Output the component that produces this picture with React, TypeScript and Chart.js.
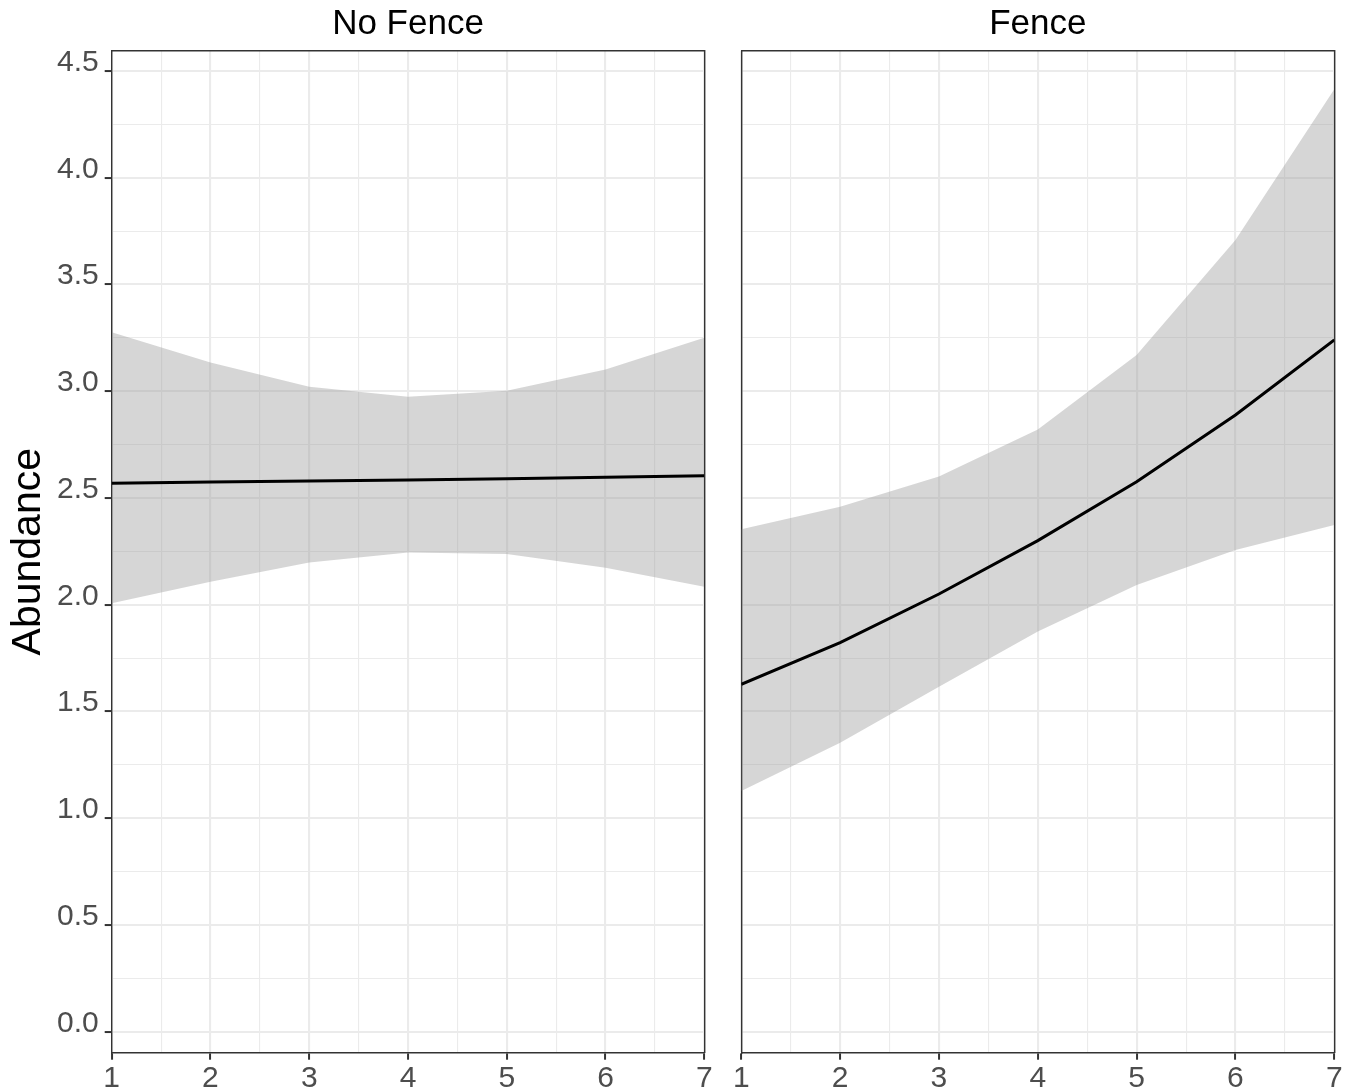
import React, { useEffect, useRef } from 'react';
import { Chart, registerables } from 'chart.js';

Chart.register(...registerables);

// ---------- data ----------
const xValues = [1, 2, 3, 4, 5, 6, 7];

const noFenceFit = [2.569, 2.575, 2.579, 2.584, 2.59, 2.597, 2.604];
const noFenceUpper = [3.276, 3.134, 3.021, 2.974, 3.002, 3.102, 3.251];
const noFenceLower = [2.007, 2.108, 2.198, 2.244, 2.237, 2.173, 2.084];

const fenceFit = [1.627, 1.822, 2.05, 2.3, 2.576, 2.889, 3.24];
const fenceUpper = [2.353, 2.459, 2.6, 2.821, 3.17, 3.708, 4.414];
const fenceLower = [1.127, 1.354, 1.616, 1.874, 2.092, 2.256, 2.373];

const panelTitles = ['No Fence', 'Fence'];
const yAxisTitle = 'Abundance';

const yMajorTicks = [0, 0.5, 1, 1.5, 2, 2.5, 3, 3.5, 4, 4.5];
const yTickLabels = ['0.0', '0.5', '1.0', '1.5', '2.0', '2.5', '3.0', '3.5', '4.0', '4.5'];
const yMinorTicks = [0.25, 0.75, 1.25, 1.75, 2.25, 2.75, 3.25, 3.75, 4.25];
const xMajorTicks = [1, 2, 3, 4, 5, 6, 7];
const xTickLabels = ['1', '2', '3', '4', '5', '6', '7'];
const xMinorTicks = [1.5, 2.5, 3.5, 4.5, 5.5, 6.5];

const yMin = -0.0984;
const yMax = 4.595;
const xMin = 1;
const xMax = 7;

// ---------- styles ----------
const FONT = "'Liberation Sans', Arial, Helvetica, sans-serif";
const GRID = '#ebebeb';
const BORDER = '#333333';
const TEXT = '#4d4d4d';
const RIBBON = 'rgba(153,153,153,0.4)';

const near = (a: number, b: number) => Math.abs(a - b) < 1e-6;
const majorIndex = (v: number, major: number[]) => major.findIndex((m) => near(m, v));

function setTicks(scale: any, major: number[], minor: number[]) {
  const all = [...major, ...minor].sort((a, b) => a - b);
  scale.ticks = all.map((v) => ({ value: v }));
}

function borderAxis(position: string) {
  return {
    type: 'linear',
    position,
    display: true,
    grid: { display: false, drawTicks: false },
    ticks: { display: false },
    border: { display: true, color: BORDER, width: 1.4 },
    afterFit: (s: any) => {
      if (position === 'top' || position === 'bottom') s.height = 0;
      else s.width = 0;
    },
  };
}

function makeConfig(side: 'left' | 'right', title: string, fit: number[], upper: number[], lower: number[]) {
  const isLeft = side === 'left';
  const pts = (arr: number[]) => xValues.map((x, i) => ({ x, y: arr[i] }));
  return {
    type: 'line',
    data: {
      datasets: [
        {
          label: 'fit',
          data: pts(fit),
          borderColor: '#000000',
          borderWidth: 3,
          pointRadius: 0,
          fill: false,
          tension: 0,
        },
        {
          label: 'upper',
          data: pts(upper),
          borderWidth: 0,
          borderColor: 'rgba(0,0,0,0)',
          pointRadius: 0,
          backgroundColor: RIBBON,
          fill: '+1',
          tension: 0,
        },
        {
          label: 'lower',
          data: pts(lower),
          borderWidth: 0,
          borderColor: 'rgba(0,0,0,0)',
          pointRadius: 0,
          fill: false,
          tension: 0,
        },
      ],
    },
    options: {
      responsive: false,
      animation: false,
      events: [],
      layout: {
        padding: isLeft
          ? { left: 0, right: 15.7, top: 0, bottom: 0 }
          : { left: 21.3, right: 22.7, top: 0, bottom: 0 },
      },
      plugins: {
        legend: { display: false },
        tooltip: { enabled: false },
        title: {
          display: true,
          text: title,
          fullSize: false,
          align: 'center',
          color: '#000000',
          font: { family: FONT, size: 35, weight: 'normal', lineHeight: 1.2 },
          padding: { top: 3, bottom: 5.7 },
        },
      },
      scales: {
        x: {
          type: 'linear',
          position: 'bottom',
          min: xMin,
          max: xMax,
          afterBuildTicks: (s: any) => setTicks(s, xMajorTicks, xMinorTicks),
          afterFit: (s: any) => {
            s.height = 37.3;
          },
          grid: {
            color: GRID,
            lineWidth: (ctx: any) => (majorIndex(ctx.tick.value, xMajorTicks) >= 0 ? 2.1 : 1.1),
            drawTicks: true,
            tickLength: 7,
            tickWidth: 2,
            tickColor: (ctx: any) =>
              majorIndex(ctx.tick.value, xMajorTicks) >= 0 ? BORDER : 'rgba(0,0,0,0)',
          },
          border: { display: true, color: BORDER, width: 1.4 },
          ticks: {
            autoSkip: false,
            maxRotation: 0,
            minRotation: 0,
            padding: 1,
            color: TEXT,
            font: { family: FONT, size: 30 },
            callback: (v: number) => {
              const i = majorIndex(v, xMajorTicks);
              return i >= 0 ? xTickLabels[i] : '';
            },
          },
        },
        y: {
          type: 'linear',
          position: 'left',
          min: yMin,
          max: yMax,
          afterBuildTicks: (s: any) => setTicks(s, yMajorTicks, yMinorTicks),
          afterFit: (s: any) => {
            s.width = isLeft ? 111.7 : 0;
          },
          grid: {
            color: GRID,
            lineWidth: (ctx: any) => (majorIndex(ctx.tick.value, yMajorTicks) >= 0 ? 2.1 : 1.1),
            drawTicks: isLeft,
            tickLength: 7,
            tickWidth: 2,
            tickColor: (ctx: any) =>
              majorIndex(ctx.tick.value, yMajorTicks) >= 0 ? BORDER : 'rgba(0,0,0,0)',
          },
          border: { display: true, color: BORDER, width: 1.4 },
          title: {
            display: isLeft,
            text: yAxisTitle,
            color: '#000000',
            font: { family: FONT, size: 41, lineHeight: 1.2 },
            padding: { top: 4, bottom: 0 },
          },
          ticks: {
            display: isLeft,
            autoSkip: false,
            padding: 6,
            labelOffset: -8.3,
            color: TEXT,
            font: { family: FONT, size: 30 },
            callback: (v: number) => {
              const i = majorIndex(v, yMajorTicks);
              return i >= 0 ? yTickLabels[i] : '';
            },
          },
        },
        xTop: borderAxis('top'),
        yRight: borderAxis('right'),
      },
    },
  };
}

function Panel(props: {
  side: 'left' | 'right';
  title: string;
  fit: number[];
  upper: number[];
  lower: number[];
  left: number;
  width: number;
}) {
  const ref = useRef<HTMLCanvasElement | null>(null);
  useEffect(() => {
    if (!ref.current) return;
    const chart = new Chart(
      ref.current,
      makeConfig(props.side, props.title, props.fit, props.upper, props.lower) as any
    );
    return () => chart.destroy();
  }, []);
  return (
    <canvas
      ref={ref}
      width={props.width}
      height={1090}
      style={{ position: 'absolute', left: props.left, top: 0, width: props.width, height: 1090 }}
    />
  );
}

export default function App() {
  useEffect(() => {
    document.body.style.margin = '0';
    document.body.style.background = '#ffffff';
  }, []);
  return (
    <div style={{ position: 'relative', width: 1357, height: 1090, background: '#ffffff', overflow: 'hidden' }}>
      <Panel side="left" title={panelTitles[0]} fit={noFenceFit} upper={noFenceUpper} lower={noFenceLower} left={0} width={720} />
      <Panel side="right" title={panelTitles[1]} fit={fenceFit} upper={fenceUpper} lower={fenceLower} left={720} width={637} />
    </div>
  );
}
